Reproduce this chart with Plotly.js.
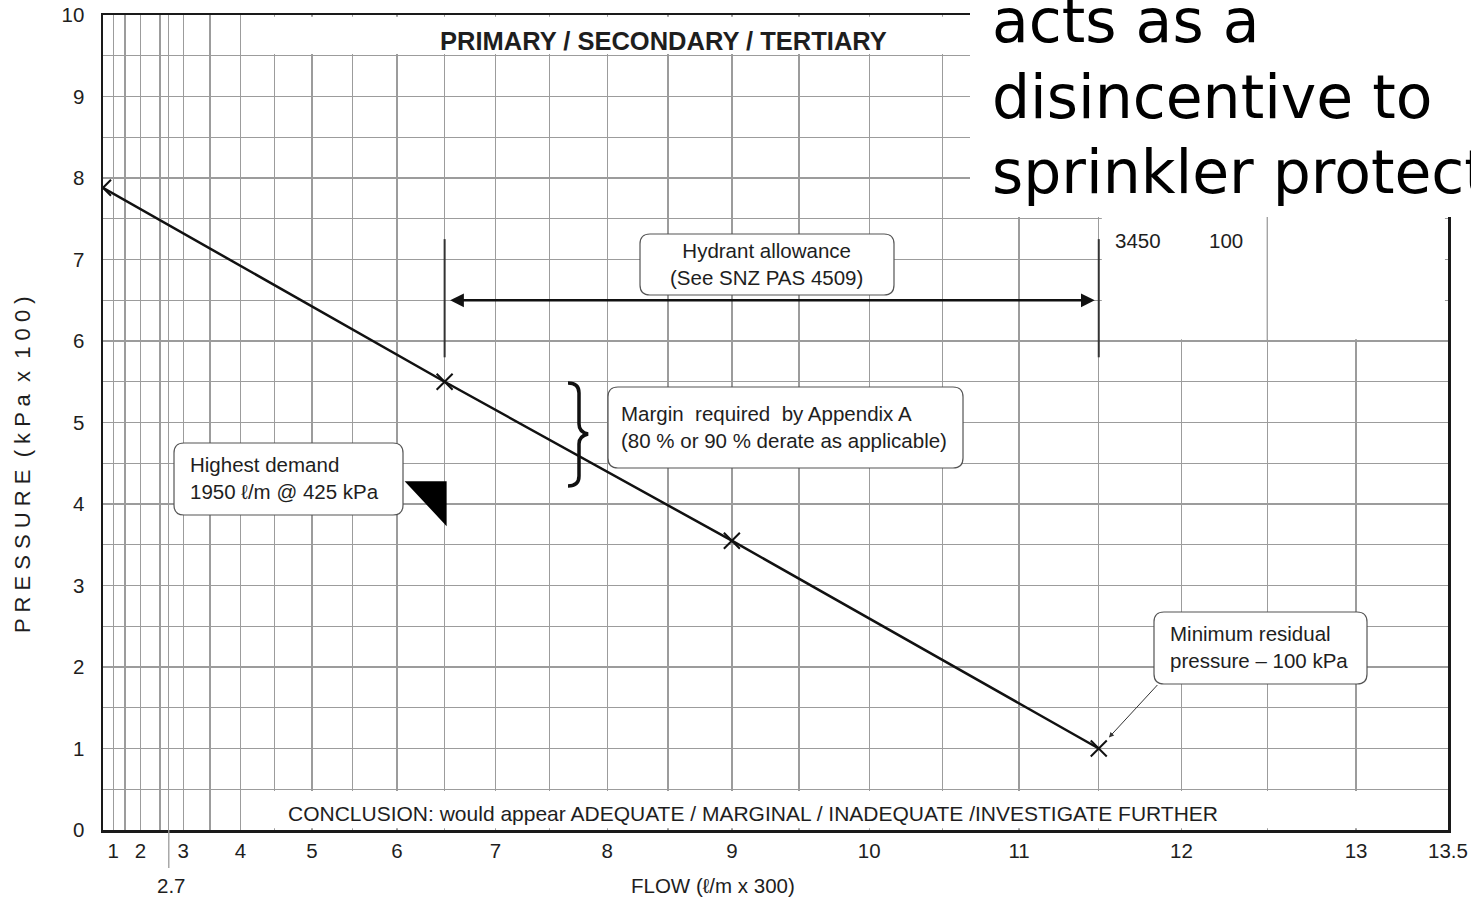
<!DOCTYPE html>
<html>
<head>
<meta charset="utf-8">
<script src="https://cdn.plot.ly/plotly-3.0.1.min.js"></script>
<style>
html,body{margin:0;padding:0;background:#fff;}
#chart{width:1471px;height:899px;}
</style>
</head>
<body>
<div id="chart"></div>
<script>
// ---------------- data ----------------
const flowPoints = [0, 6.5, 9, 11.5];            // flow (l/m x 300)
const pressurePoints = [7.88, 5.5, 3.55, 1.0];   // pressure (kPa x 100)
const flowTickValues = [1, 2, 3, 4, 5, 6, 7, 8, 9, 10, 11, 12, 13, 13.5];
const flowTickLabels = ['1','2','3','4','5','6','7','8','9','10','11','12','13','13.5'];
const flowGridValues = [1, 1.5, 2, 2.5, 2.7, 3, 3.5, 4, 4.5, 5, 5.5, 6, 6.5, 7, 7.5, 8, 8.5, 9, 9.5, 10, 10.5, 11, 11.5, 12, 12.5, 13, 13.5];
const pressureGridValues = [0, 0.5, 1, 1.5, 2, 2.5, 3, 3.5, 4, 4.5, 5, 5.5, 6, 6.5, 7, 7.5, 8, 8.5, 9, 9.5, 10];
const pressureTickValues = [0, 1, 2, 3, 4, 5, 6, 7, 8, 9, 10];
const pressureTickLabels = ['0','1','2','3','4','5','6','7','8','9','10'];
const hydrantFlows = [6.5, 11.5];
const hydrantPressureSpan = [5.8, 7.25];
const hydrantArrowPressure = 6.5;
const highestDemandPoint = [6.5, 4.28];
const minResidualPoint = [11.5, 1.0];
const specialFlowTick = 2.7;
const tableValues = ['3450', '100'];

// ---------------- scale helpers ----------------
const EXP = 1.875;                       // flow axis drawn on Q^n paper
const tx = q => Math.pow(q, EXP);
const PL = 103, PR = 1448, PT = 15, PB = 830;
const px = x => (x - PL) / (PR - PL);
const py = y => (PB - y) / (PB - PT);
const FONT = 'Liberation Sans, Arial, Helvetica, sans-serif';
const TXT = '#1e1e1e';
const GRID = '#9c9c9c';

function roundedBox(x0, y0, x1, y1, r) {
  const X = v => px(v).toFixed(5), Y = v => py(v).toFixed(5);
  return `M${X(x0+r)},${Y(y0)} L${X(x1-r)},${Y(y0)} Q${X(x1)},${Y(y0)} ${X(x1)},${Y(y0+r)} ` +
         `L${X(x1)},${Y(y1-r)} Q${X(x1)},${Y(y1)} ${X(x1-r)},${Y(y1)} ` +
         `L${X(x0+r)},${Y(y1)} Q${X(x0)},${Y(y1)} ${X(x0)},${Y(y1-r)} ` +
         `L${X(x0)},${Y(y0+r)} Q${X(x0)},${Y(y0)} ${X(x0+r)},${Y(y0)} Z`;
}

// ---------------- traces ----------------
const curve = {
  x: flowPoints.map(tx), y: pressurePoints,
  mode: 'lines+markers', type: 'scatter',
  line: {color: '#111', width: 2.5},
  marker: {symbol: 'x-thin-open', size: 16, line: {color: '#111', width: 2}},
  hoverinfo: 'skip'
};
const hydrantLines = {
  x: [tx(hydrantFlows[0]), tx(hydrantFlows[0]), null, tx(hydrantFlows[1]), tx(hydrantFlows[1])],
  y: [hydrantPressureSpan[0], hydrantPressureSpan[1], null, hydrantPressureSpan[0], hydrantPressureSpan[1]],
  mode: 'lines', type: 'scatter',
  line: {color: '#333', width: 2},
  hoverinfo: 'skip'
};

// ---------------- shapes ----------------
const eps = 0.3;
const cover = (x0, x1, y0, y1) => ({type: 'rect', xref: 'x', yref: 'y', x0, x1, y0, y1,
  fillcolor: '#fff', line: {width: 0}, layer: 'between'});
const shapes = [
  cover(tx(4) + eps, tx(13.5) - eps, 0.02, 0.48),
  cover(tx(4) + eps, tx(13.5) - eps, 9.52, 9.98),
  cover(tx(11.5) + eps, tx(13.5) - eps, 6.02, 9.98),
  // 12.5 grid line kept through the blank table area
  {type: 'line', xref: 'x', yref: 'y', x0: tx(12.5), x1: tx(12.5), y0: 6, y1: 9.98,
   line: {color: GRID, width: 1.3}, layer: 'between'},
  // 2.7 tick extension below the axis
  {type: 'line', xref: 'x', yref: 'paper', x0: tx(specialFlowTick), x1: tx(specialFlowTick), y0: py(868), y1: 0,
   line: {color: GRID, width: 1.3}},
  // slide overlay background
  {type: 'rect', xref: 'paper', yref: 'paper', x0: px(970), x1: 1.1, y0: py(217), y1: 1.1,
   fillcolor: '#fff', line: {width: 0}, layer: 'above'},
  // rounded note boxes
  {type: 'path', xref: 'paper', yref: 'paper', path: roundedBox(640, 234, 894, 295, 10), fillcolor: '#fff', line: {color: '#555', width: 1.2}},
  {type: 'path', xref: 'paper', yref: 'paper', path: roundedBox(608, 387, 963, 468, 10), fillcolor: '#fff', line: {color: '#555', width: 1.2}},
  {type: 'path', xref: 'paper', yref: 'paper', path: roundedBox(174, 443, 403, 515, 10), fillcolor: '#fff', line: {color: '#555', width: 1.2}},
  {type: 'path', xref: 'paper', yref: 'paper', path: roundedBox(1154, 612, 1367, 684, 10), fillcolor: '#fff', line: {color: '#555', width: 1.2}},
  // brace
  {type: 'path', xref: 'paper', yref: 'paper',
   path: `M${px(568)},${py(383)} Q${px(579)},${py(383)} ${px(579)},${py(393)} L${px(579)},${py(424)} Q${px(579)},${py(432)} ${px(588)},${py(434)} Q${px(579)},${py(436)} ${px(579)},${py(444)} L${px(579)},${py(476)} Q${px(579)},${py(486)} ${px(568)},${py(486)}`,
   line: {color: '#111', width: 3.5}},
  // highest-demand pointer triangle (pixel-sized, anchored at the demand point)
  {type: 'path', xref: 'x', yref: 'y', xsizemode: 'pixel', ysizemode: 'pixel',
   xanchor: tx(highestDemandPoint[0]), yanchor: highestDemandPoint[1],
   path: 'M -40,0 L 2,0 L 2,-45 Z', fillcolor: '#000', line: {width: 0}}
];

// ---------------- annotations ----------------
const A = (text, x, y, size, extra) => Object.assign({
  text, xref: 'paper', yref: 'paper', x: px(x), y: py(y), showarrow: false,
  xanchor: 'center', yanchor: 'middle', font: {family: FONT, size, color: TXT}
}, extra || {});
const NB = '\u00a0';
const yTitle = 'P R E S S U R E' + NB + NB + '( k P a' + NB + NB + 'x' + NB + NB + '1 0 0 )';
const SLIDE_FONT = {family: 'DejaVu Sans, Verdana, sans-serif', size: 60, color: '#000', weight: 400};

const annotations = [
  A('<b>PRIMARY / SECONDARY / TERTIARY</b>', 663, 41, 25.5),
  A('CONCLUSION: would appear ADEQUATE / MARGINAL / INADEQUATE /INVESTIGATE FURTHER', 753, 813, 21),
  A('FLOW (ℓ/m x 300)', 713, 885, 20.5),
  A(String(specialFlowTick), 171, 885, 20.5),
  A(yTitle, 23, 465, 22, {textangle: -90}),
  A('Hydrant allowance<br>(See SNZ PAS 4509)', 766, 264, 20.5),
  A('Margin' + NB + NB + 'required' + NB + NB + 'by Appendix A<br>(80 % or 90 % derate as applicable)', 619, 427, 20.5, {xanchor: 'left', align: 'left'}),
  A('Highest demand<br>1950 ℓ/m @ 425 kPa', 188, 478, 20.5, {xanchor: 'left', align: 'left'}),
  A('Minimum residual<br>pressure – 100 kPa', 1168, 647, 20.5, {xanchor: 'left', align: 'left'}),
  A(tableValues[0], 1138, 241, 20.5),
  A(tableValues[1], 1226, 241, 20.5),
  // slide overlay text
  A('acts as a', 990, 21, 60, {xanchor: 'left', font: SLIDE_FONT}),
  A('disincentive to', 990, 97, 60, {xanchor: 'left', font: SLIDE_FONT}),
  A('sprinkler protect', 990, 172, 60, {xanchor: 'left', font: SLIDE_FONT}),
  // hydrant allowance double arrow
  {x: tx(hydrantFlows[1]), y: hydrantArrowPressure, ax: tx(hydrantFlows[0]), ay: hydrantArrowPressure,
   xref: 'x', yref: 'y', axref: 'x', ayref: 'y', text: '', showarrow: true,
   arrowside: 'end+start', arrowhead: 2, startarrowhead: 2, arrowsize: 1.1, startarrowsize: 1.1,
   arrowwidth: 2.5, arrowcolor: '#111', standoff: 4, startstandoff: 4},
  // minimum residual pointer
  {x: tx(minResidualPoint[0]), y: minResidualPoint[1], xref: 'x', yref: 'y', ax: 60, ay: -65,
   text: '', showarrow: true, arrowhead: 2, arrowsize: 1, arrowwidth: 1, arrowcolor: '#333', standoff: 15}
];

// ---------------- layout ----------------
const layout = {
  width: 1471, height: 899,
  margin: {l: PL, r: 1471 - PR, t: PT, b: 899 - PB, pad: 0},
  paper_bgcolor: '#fff', plot_bgcolor: '#fff',
  showlegend: false,
  xaxis: {
    range: [0, tx(13.5)], tickmode: 'array',
    tickvals: flowGridValues.map(tx),
    ticktext: flowGridValues.map(v => { const i = flowTickValues.indexOf(v); return i >= 0 ? flowTickLabels[i] : ''; }),
    showgrid: true, gridcolor: GRID, gridwidth: 1.3, zeroline: false,
    showline: true, mirror: true, linecolor: '#1a1a1a', linewidth: 2.5,
    ticks: 'outside', ticklen: 1, tickcolor: 'rgba(0,0,0,0)',
    tickfont: {family: FONT, size: 20.5, color: TXT}, fixedrange: true
  },
  yaxis: {
    range: [0, 10], tickmode: 'array',
    tickvals: pressureGridValues,
    ticktext: pressureGridValues.map(v => { const i = pressureTickValues.indexOf(v); return i >= 0 ? pressureTickLabels[i] : ''; }),
    showgrid: true, gridcolor: GRID, gridwidth: 1.3, zeroline: false,
    showline: true, mirror: true, linecolor: '#1a1a1a', linewidth: 2.5,
    ticks: 'outside', ticklen: 12, tickcolor: 'rgba(0,0,0,0)',
    tickfont: {family: FONT, size: 20.5, color: TXT}, fixedrange: true
  },
  shapes, annotations
};

Plotly.newPlot('chart', [hydrantLines, curve], layout, {displayModeBar: false, staticPlot: true});
</script>
</body>
</html>
